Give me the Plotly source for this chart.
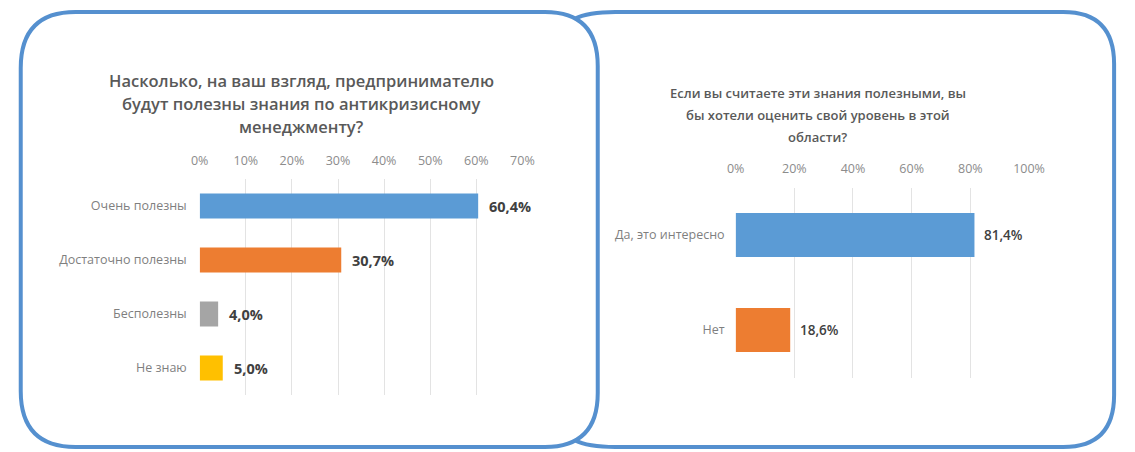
import plotly.graph_objects as go

W, H = 1135, 452

# ---- data ----
left_title_lines = ["Насколько, на ваш взгляд, предпринимателю",
                    "будут полезны знания по антикризисному",
                    "менеджменту?"]
left_categories = ["Очень полезны", "Достаточно полезны", "Бесполезны", "Не знаю"]
left_values = [60.4, 30.7, 4.0, 5.0]
left_labels = ["60,4%", "30,7%", "4,0%", "5,0%"]
left_colors = ["#5B9BD5", "#ED7D31", "#A5A5A5", "#FFC000"]
left_ticks = [0, 10, 20, 30, 40, 50, 60, 70]

right_title_lines = ["Если вы считаете эти знания полезными, вы",
                     "бы хотели оценить свой уровень в этой",
                     "области?"]
right_categories = ["Да, это интересно", "Нет"]
right_values = [81.4, 18.6]
right_labels = ["81,4%", "18,6%"]
right_colors = ["#5B9BD5", "#ED7D31"]
right_ticks = [0, 20, 40, 60, 80, 100]


def px(x):
    return x / W


def py(y):
    return 1 - y / H


def path(cmds):
    out = []
    for c in cmds:
        if isinstance(c, str):
            out.append(c)
        else:
            out.append(f"{px(c[0]):.5f},{py(c[1]):.5f}")
    return " ".join(out)


fig = go.Figure()

fig.add_trace(go.Bar(
    x=left_values, y=left_categories, orientation="h",
    marker=dict(color=left_colors, line=dict(width=0)),
    xaxis="x", yaxis="y", showlegend=False, hoverinfo="skip"))

fig.add_trace(go.Bar(
    x=right_values, y=right_categories, orientation="h",
    marker=dict(color=right_colors, line=dict(width=0)),
    xaxis="x2", yaxis="y2", showlegend=False, hoverinfo="skip"))

tick_font = dict(family="Open Sans", size=12.5, color="#8c8c8c")
cat_font = dict(family="Open Sans", size=12.5, color="#7f7f7f")

fig.update_layout(
    width=W, height=H,
    margin=dict(l=0, r=0, t=0, b=0),
    paper_bgcolor="white", plot_bgcolor="white",
    bargap=0.537,
    xaxis=dict(domain=[px(195), px(525)], range=[0, 70], side="top",
               tickvals=left_ticks, ticktext=[f"{t}%" for t in left_ticks],
               showgrid=True, gridcolor="#e3e3e3", gridwidth=1,
               zeroline=False, showline=False, ticks="",
               ticklabelstandoff=11, tickfont=tick_font, fixedrange=True),
    yaxis=dict(domain=[py(395), py(179)], anchor="x",
               categoryorder="array", categoryarray=left_categories,
               autorange="reversed", showgrid=False, zeroline=False,
               showline=False, ticks="", ticklabelstandoff=12,
               tickfont=cat_font, fixedrange=True),
    xaxis2=dict(domain=[px(743), px(1043)], range=[0, 100], side="top",
                anchor="y2",
                tickvals=right_ticks, ticktext=[f"{t}%" for t in right_ticks],
                showgrid=True, gridcolor="#e3e3e3", gridwidth=1,
                zeroline=False, showline=False, ticks="",
                ticklabelstandoff=11, tickfont=tick_font, fixedrange=True),
    yaxis2=dict(domain=[py(377.5), py(187.5)], anchor="x2",
                categoryorder="array", categoryarray=right_categories,
                autorange="reversed", showgrid=False, zeroline=False,
                showline=False, ticks="", ticklabelstandoff=10,
                tickfont=cat_font, fixedrange=True),
)

annotations = []
# value labels
for v, lab, c in zip(left_values, left_labels, left_categories):
    annotations.append(dict(x=v, y=c, xref="x", yref="y", text=lab,
                            showarrow=False, xanchor="left", xshift=9,
                            font=dict(family="Open Sans", size=14.5,
                                      color="#404040", weight="bold")))
for v, lab, c in zip(right_values, right_labels, right_categories):
    annotations.append(dict(x=v, y=c, xref="x2", yref="y2", text=lab,
                            showarrow=False, xanchor="left", xshift=8,
                            font=dict(family="Open Sans", size=13.5,
                                      color="#404040", weight=600)))
# titles
for i, line in enumerate(left_title_lines):
    annotations.append(dict(x=px(299), y=py(80 + 23.5 * i), xref="paper",
                            yref="paper", text=line, showarrow=False,
                            xanchor="center", yanchor="middle",
                            font=dict(family="Open Sans", size=16.5,
                                      color="#595959", weight=600)))
for i, line in enumerate(right_title_lines):
    annotations.append(dict(x=px(827), y=py(93 + 22 * i), xref="paper",
                            yref="paper", text=line, showarrow=False,
                            xanchor="center", yanchor="middle",
                            font=dict(family="Open Sans", size=13,
                                      color="#595959", weight=600)))
fig.update_layout(annotations=annotations)

border = dict(color="#5590CF", width=4)
left_panel = path(["M", (68, 12), "L", (548, 12), "Q", (602, 12), (602, 66),
                   "L", (602, 393), "Q", (602, 447), (548, 447),
                   "L", (68, 447), "Q", (12, 447), (12, 391),
                   "L", (12, 68), "Q", (12, 12), (68, 12), "Z"])
right_panel = path(["M", (578, 19), "Q", (592, 12), (620, 12),
                    "L", (1078, 12), "Q", (1130, 12), (1130, 64),
                    "L", (1130, 395), "Q", (1130, 447), (1078, 447),
                    "L", (620, 447), "Q", (592, 447), (578, 440)])
fig.update_layout(shapes=[
    dict(type="path", path=left_panel, xref="paper", yref="paper",
         line=border, layer="above"),
    dict(type="path", path=right_panel, xref="paper", yref="paper",
         line=border, layer="above"),
])

fig.write_html("out.html", config={"displayModeBar": False},
               post_script="document.body.style.margin='0';"
                           "document.body.style.overflow='hidden';")
